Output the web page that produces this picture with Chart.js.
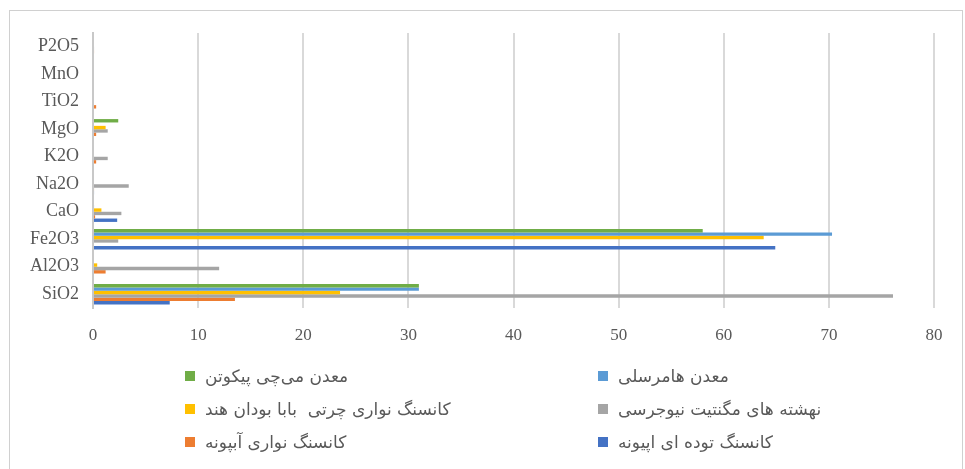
<!DOCTYPE html>
<html>
<head>
<meta charset="utf-8">
<script src="https://cdn.jsdelivr.net/npm/chart.js@4.4.0/dist/chart.umd.min.js"></script>
<style>
  html, body { margin: 0; padding: 0; background: #fff; }
  #wrap { position: relative; width: 965px; height: 469px; overflow: hidden; }
  #frame { position: absolute; left: 9px; top: 10px; width: 954px; height: 470px; border: 1px solid #d0d0d0; box-sizing: border-box; }
  #myChart { position: absolute; left: 0; top: 0; }
  #legend { position: absolute; left: 185px; top: 366px; display: grid; grid-template-columns: 413px 300px; row-gap: 13px; }
  .item { display: flex; align-items: center; height: 20px; font-family: "DejaVu Sans", sans-serif; font-size: 17px; color: #595959; white-space: pre; }
  .box { width: 10px; height: 10px; margin-right: 10px; flex: none; }
</style>
</head>
<body>
<div id="wrap">
  <div id="frame"></div>
  <canvas id="myChart" width="965" height="469"></canvas>
  <div id="legend"></div>
</div>
<script>
var oxides = ['SiO2', 'Al2O3', 'Fe2O3', 'CaO', 'Na2O', 'K2O', 'MgO', 'TiO2', 'MnO', 'P2O5'];
var xTicks = [0, 10, 20, 30, 40, 50, 60, 70, 80];

// percentages per oxide, same order as oxides
var michiPicoten = [31.0, 0, 58.0, 0, 0, 0, 2.4, 0, 0, 0];
var hamersley = [31.0, 0, 70.3, 0.1, 0, 0, 0, 0, 0, 0];
var bababudan = [23.5, 0.4, 63.8, 0.8, 0, 0, 1.2, 0, 0, 0];
var newJersey = [76.1, 12.0, 2.4, 2.7, 3.4, 1.4, 1.4, 0, 0, 0.1];
var abpunehBanded = [13.5, 1.2, 0, 0.2, 0.1, 0.3, 0.3, 0.3, 0, 0.1];
var abpunehMassive = [7.3, 0, 64.9, 2.3, 0.1, 0, 0, 0, 0, 0];

var seriesNames = [
  'معدن می‌چی پیکوتن',
  'معدن هامرسلی',
  'کانسنگ نواری چرتی  بابا بودان هند',
  'نهشته های مگنتیت نیوجرسی',
  'کانسنگ نواری آبپونه',
  'کانسنگ توده ای اپیونه'
];

var colors = {
  green: '#70AD47',
  lightBlue: '#5B9BD5',
  yellow: '#FFC000',
  gray: '#A5A5A5',
  orange: '#ED7D31',
  blue: '#4472C4'
};

var seriesData = [michiPicoten, hamersley, bababudan, newJersey, abpunehBanded, abpunehMassive];
var seriesColors = [colors.green, colors.lightBlue, colors.yellow, colors.gray, colors.orange, colors.blue];

var datasets = seriesData.map((d, i) => {
  return {
    label: seriesNames[i],
    data: d,
    backgroundColor: seriesColors[i],
    borderWidth: 0,
    barPercentage: 1,
    categoryPercentage: 0.74
  }
});

const ctx = document.getElementById('myChart');

const chart = new Chart(ctx, {
  type: 'bar',
  data: {
    labels: oxides,
    datasets: datasets
  },
  options: {
    indexAxis: 'y',
    responsive: false,
    animation: false,
    layout: {
      padding: { left: 10, right: 31, top: 33, bottom: 116 }
    },
    plugins: {
      legend: { display: false },
      tooltip: { enabled: false }
    },
    scales: {
      x: {
        min: 0,
        max: 80,
        afterBuildTicks: function (scale) {
          scale.ticks = xTicks.map(v => ({ value: v }));
        },
        afterFit: function (scale) {
          scale.height = 45;
        },
        grid: {
          color: '#d9d9d9',
          lineWidth: 2,
          drawTicks: false
        },
        border: { display: false },
        ticks: {
          padding: 17,
          color: '#595959',
          font: { family: '"Liberation Serif", serif', size: 17 }
        }
      },
      y: {
        reverse: true,
        afterFit: function (scale) {
          scale.width = 83;
        },
        grid: { display: false, drawTicks: false },
        border: { display: true, color: '#c8c8c8', width: 2 },
        ticks: {
          padding: 14,
          color: '#595959',
          font: { family: '"Liberation Serif", serif', size: 18 }
        }
      }
    }
  }
});

// legend in two columns, built from the chart's own dataset labels
var legendEl = document.getElementById('legend');
chart.options.plugins.legend.labels.generateLabels(chart).forEach(item => {
  var row = document.createElement('div');
  row.className = 'item';
  var box = document.createElement('span');
  box.className = 'box';
  box.style.background = item.fillStyle;
  var txt = document.createElement('span');
  txt.dir = 'rtl';
  txt.textContent = item.text;
  row.appendChild(box);
  row.appendChild(txt);
  legendEl.appendChild(row);
});
</script>
</body>
</html>
